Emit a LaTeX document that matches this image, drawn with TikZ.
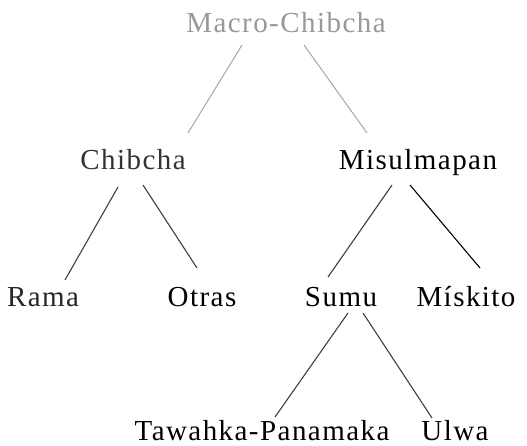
\documentclass[tikz,border=0pt]{standalone}
\usepackage{fontspec}
\setmainfont{Liberation Serif}[LetterSpace=5]
\usetikzlibrary{calc}
\begin{document}
\begin{tikzpicture}[x=1pt,y=-1pt,
  lang/.style={anchor=base,inner sep=0pt,font=\fontsize{29}{31}\selectfont},
  link/.style={line width=1.1pt,black!75},
  faint/.style={line width=1pt,black!35}]
\useasboundingbox[fill=white] (0,0) rectangle (527,446);
\node[lang,text=black!40] (top) at (286,33) {Macro-Chibcha};
\node[lang,text=black!80] (chibcha) at (133,170) {Chibcha};
\node[lang] (misul) at (418,170) {Misulmapan};
\node[lang,text=black!85] (rama) at (43,306) {Rama};
\node[lang] (otras) at (202,306) {Otras};
\node[lang] (sumu) at (341,306) {Sumu};
\node[lang] (miskito) at (466,306) {Mískito};
\node[lang] (tawahka) at (262,440) {Tawahka-Panamaka};
\node[lang] (ulwa) at (455,440) {Ulwa};
\draw[faint] ($(top.base)+(-44,12)$) -- ($(chibcha.base)+(55,-37)$);
\draw[faint] ($(top.base)+(18,12)$) -- ($(misul.base)+(-51,-37)$);
\draw[link] ($(chibcha.base)+(-15,17)$) -- ($(rama.base)+(22,-26)$);
\draw[link] ($(chibcha.base)+(10,15)$) -- ($(otras.base)+(-5,-38)$);
\draw[link] ($(misul.base)+(-26,15)$) -- ($(sumu.base)+(-13,-29)$);
\draw[link,black] ($(misul.base)+(-8,15)$) -- ($(miskito.base)+(14,-38)$);
\draw[link] ($(sumu.base)+(7,7)$) -- ($(tawahka.base)+(13,-23)$);
\draw[link] ($(sumu.base)+(22,7)$) -- ($(ulwa.base)+(-23,-22)$);
\end{tikzpicture}
\end{document}
